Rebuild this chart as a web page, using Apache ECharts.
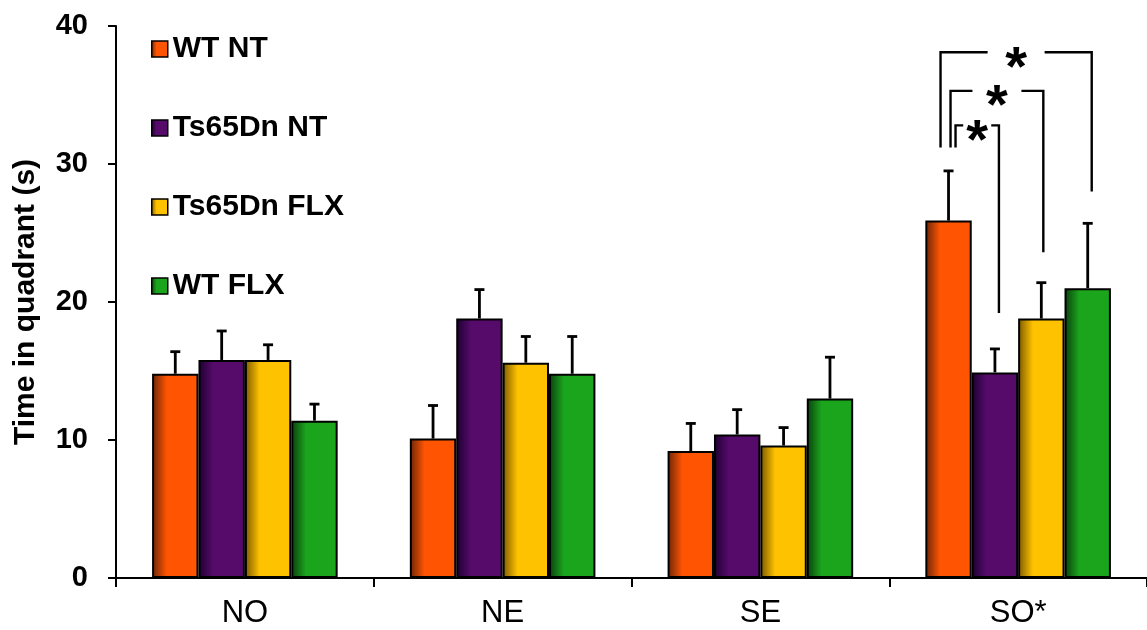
<!DOCTYPE html>
<html>
<head>
<meta charset="utf-8">
<script src="https://cdn.jsdelivr.net/npm/echarts@6/dist/echarts.min.js"></script>
<style>html,body{margin:0;padding:0;background:#fff}#c{width:1147px;height:630px}</style>
</head>
<body>
<div id="c"></div>
<script>
// ---- data ----
const categories = ['NO', 'NE', 'SE', 'SO*'];
const seriesNames = ['WT NT', 'Ts65Dn NT', 'Ts65Dn FLX', 'WT FLX'];
const wtNT      = [14.8, 10.1,  9.2, 25.9];
const ts65NT    = [15.8, 18.8, 10.4, 14.9];
const ts65FLX   = [15.8, 15.6,  9.6, 18.8];
const wtFLX     = [11.4, 14.8, 13.0, 21.0];
const wtNTErr   = [1.6, 2.4, 2.0, 3.6];
const ts65NTErr = [2.1, 2.1, 1.8, 1.7];
const ts65FLXErr= [1.1, 1.9, 1.3, 2.6];
const wtFLXErr  = [1.2, 2.7, 3.0, 4.7];
const yTicks = [0, 10, 20, 30, 40];
// significance brackets in SO*: [fromSeries, toSeries, topValue, leftBottomValue, rightBottomValue]
const sigCategory = 3;
const brackets = [
  [0, 1, 32.8, 31.2, 19.2],
  [0, 2, 35.3, 31.2, 23.6],
  [0, 3, 38.1, 31.2, 28.0]
];
const sigLabel = '*';

// ---- styles ----
const FONT = '"Liberation Sans", Arial, sans-serif';
const colors = [
  ['#6a2408', '#ff5503'],
  ['#1c0030', '#560b6b'],
  ['#7a5800', '#ffc200'],
  ['#0a3e0e', '#1ba51c']
];
const GAP = 0.28;
const bracketStyle = [
  {leftOff: 7, rightOff: 4, gap: 28},
  {leftOff: 2, rightOff: 2, gap: 49},
  {leftOff: -8, rightOff: 4, gap: 57}
];

const means = [wtNT, ts65NT, ts65FLX, wtFLX];
const errs = [wtNTErr, ts65NTErr, ts65FLXErr, wtFLXErr];

function grad(i) {
  return new echarts.graphic.LinearGradient(0, 0, 1, 0, [
    {offset: 0, color: colors[i][0]},
    {offset: 0.32, color: colors[i][1]},
    {offset: 1, color: colors[i][1]}
  ]);
}

function barCenter(api, ci, si) {
  const c = api.coord([ci, 0]);
  const band = api.size([1, 0])[0];
  const bw = band * (1 - GAP) / 4;
  return c[0] + (si - 1.5) * bw;
}

const series = [];
means.forEach((m, i) => {
  series.push({
    name: seriesNames[i],
    type: 'bar',
    data: m,
    barGap: '0%',
    barCategoryGap: (GAP * 100) + '%',
    itemStyle: {color: grad(i), borderColor: '#000', borderWidth: 2},
    z: 2
  });
});
means.forEach((m, i) => {
  series.push({
    name: seriesNames[i] + ' err',
    type: 'custom',
    z: 3,
    silent: true,
    data: m.map((v, k) => [k, v, v + errs[i][k]]),
    encode: {x: 0, y: 2},
    renderItem: function (params, api) {
      const ci = api.value(0);
      const x = barCenter(api, ci, i);
      const y0 = api.coord([ci, api.value(1)])[1];
      const y1 = api.coord([ci, api.value(2)])[1];
      const st = {stroke: '#000', lineWidth: 2.8};
      return {type: 'group', children: [
        {type: 'line', shape: {x1: x, y1: y0, x2: x, y2: y1}, style: st},
        {type: 'line', shape: {x1: x - 5, y1: y1, x2: x + 5, y2: y1}, style: st}
      ]};
    }
  });
});
series.push({
  name: 'sig',
  type: 'custom',
  z: 4,
  silent: true,
  data: brackets.map((b, k) => [sigCategory, b[0], b[1], b[2], b[3], b[4], k]),
  encode: {x: 0, y: 3},
  renderItem: function (params, api) {
    const ci = api.value(0);
    const k = api.value(6);
    const s = bracketStyle[k];
    const xl = barCenter(api, ci, api.value(1)) + s.leftOff;
    const xr = barCenter(api, ci, api.value(2)) + s.rightOff;
    const yt = api.coord([ci, api.value(3)])[1];
    const ylb = api.coord([ci, api.value(4)])[1];
    const yrb = api.coord([ci, api.value(5)])[1];
    const mid = (xl + xr) / 2;
    const st = {stroke: '#000', lineWidth: 2.4, fill: null};
    return {type: 'group', children: [
      {type: 'polyline', shape: {points: [[xl, ylb], [xl, yt], [mid - s.gap / 2, yt]]}, style: st},
      {type: 'polyline', shape: {points: [[mid + s.gap / 2, yt], [xr, yt], [xr, yrb]]}, style: st},
      {type: 'text', x: mid, y: yt + 17, style: {text: sigLabel, fill: '#000', font: 'bold 56px ' + FONT, align: 'center', verticalAlign: 'middle'}}
    ]};
  }
});

const chart = echarts.init(document.getElementById('c'), null, {renderer: 'canvas'});
chart.setOption({
  animation: false,
  backgroundColor: '#fff',
  textStyle: {fontFamily: FONT},
  grid: {left: 116, right: -2, top: 26, bottom: 52, containLabel: false},
  legend: {
    data: seriesNames,
    orient: 'vertical',
    left: 146,
    top: 29,
    itemWidth: 16,
    itemHeight: 16,
    itemGap: 49,
    itemTextGap: 8,
    icon: 'rect',
    selectedMode: false,
    textStyle: {fontSize: 30, fontWeight: 'bold', color: '#000', fontFamily: FONT, lineHeight: 30, padding: [0, 0, 0, 0]},
    itemStyle: {borderColor: '#000', borderWidth: 1.5}
  },
  xAxis: {
    type: 'category',
    data: categories,
    axisLine: {lineStyle: {color: '#000', width: 2}},
    axisTick: {show: true, alignWithLabel: false, length: 9, lineStyle: {color: '#000', width: 2}},
    axisLabel: {color: '#000', fontSize: 31, fontFamily: FONT, margin: 20},
    splitLine: {show: false}
  },
  yAxis: {
    type: 'value',
    min: yTicks[0],
    max: yTicks[yTicks.length - 1],
    interval: yTicks[1] - yTicks[0],
    name: 'Time in quadrant (s)',
    nameLocation: 'middle',
    nameGap: 75,
    nameTextStyle: {fontSize: 30, fontWeight: 'bold', color: '#000', fontFamily: FONT},
    axisLine: {show: true, lineStyle: {color: '#000', width: 2}},
    axisTick: {show: true, length: 8, lineStyle: {color: '#000', width: 2}},
    axisLabel: {color: '#000', fontSize: 29, fontWeight: 'bold', fontFamily: FONT, margin: 28},
    splitLine: {show: false}
  },
  series: series
});
</script>
</body>
</html>
